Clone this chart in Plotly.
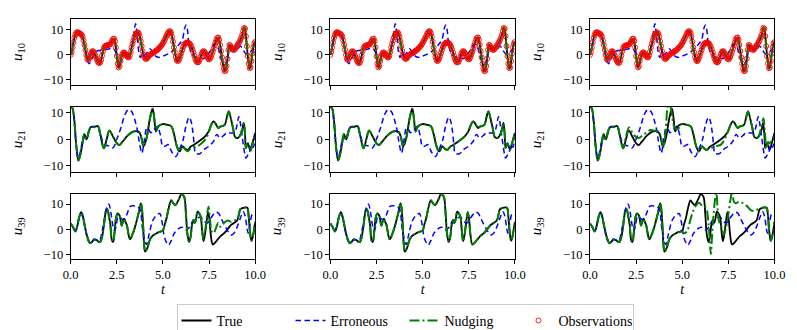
import plotly.graph_objects as go
from plotly.subplots import make_subplots

# u10 is observed every 0.05 time units; the truth runs through the observations
t_obs = [round(0.05 * i, 2) for i in range(201)]
u10_true = [
    0, 1.2, 3, 5, 6.8, 8, 8.8, 9.1, 9, 8.8, 8.6, 8.4, 8, 7.3, 5.8, 4, 2, 0, -1.6, -2,
    -1.5, -0.5, 0.5, 1.3, 1.5, 1.2, 0.5, -0.5, -1.5, -2.4, -3, -3.3, -3, -2, -0.3, 1.5, 2.8, 3.4, 3.7, 3.8,
    3.9, 4, 4.1, 4.3, 5, 5.8, 6.4, 6.5, 5.5, 3, -0.5, -3.5, -5, -4.5, -2.5, -0.8, 0.3, 0.9, 1, 0.6,
    0, -0.5, -0.9, -1, -0.3, 1.2, 3, 4.5, 5.8, 7, 7.9, 8.5, 8.9, 9, 8.5, 7.3, 5.5, 3.5, 1.5, 0,
    -1, -1.5, -1.6, -1.3, -0.8, -0.3, 0, 0.3, 0.6, 0.8, 1, 1.2, 1.5, 1.8, 2, 2.4, 2.8, 3.2, 3.6, 4.1,
    4.7, 5.4, 6.1, 6.9, 7.7, 8.5, 9.1, 9.5, 9.4, 8.7, 7.3, 5.3, 3, 1, -0.8, -2, -2.5, -2.2, -1.4, -0.4,
    0.8, 2, 3.2, 4, 4.5, 4.8, 5, 5, 4.8, 4.5, 4, 3.2, 2.2, 1, -0.3, -1.5, -2.4, -2.9, -3, -2.7,
    -1.8, -0.7, 0.4, 1.2, 1.5, 1.3, 0.7, 0, -0.8, -1.5, -1.8, -1.5, -0.8, 0.2, 1.3, 2.5, 3.8, 5, 6.1, 6.8,
    7, 6, 4, 1.5, -1, -3.5, -5.5, -6.5, -6.3, -4.5, -1.5, 2, 4, 3.8, 3, 2.4, 2.1, 2, 2.3, 2.9,
    3.5, 4, 4.6, 5.2, 6, 7, 8, 9.5, 10.8, 10.5, 7.5, 3.5, -0.5, -3.5, -5.3, -5, -2.5, 0.5, 3, 4.6,
    5.2,
]

# the other curves: (t, value) read at turning points
u10_err = [(0, 0), (0.15, 4.8), (0.3, 8.5), (0.45, 8.6), (0.6, 7.8), (0.75, 3.5), (0.9, -2), (1.0, -3.5),
           (1.1, -2.5), (1.25, 0), (1.4, 1.5), (1.7, 2), (2.0, 2.3), (2.3, 2.5), (2.45, 1), (2.55, -2),
           (2.65, -4), (2.75, -2), (2.9, 0.8), (3.05, 0.5), (3.2, 0.2), (3.3, 2), (3.4, 7), (3.52, 12.5),
           (3.6, 8), (3.7, 1), (3.78, -1), (3.9, 0.8), (4.0, 0), (4.15, 1), (4.3, 2.5), (4.45, 1),
           (4.6, -0.5), (4.8, -1), (5.0, -0.5), (5.3, 0.5), (5.6, 2), (5.85, 4), (6.05, 6), (6.17, 10.5),
           (6.25, 12), (6.33, 10), (6.42, 4), (6.55, 0.5), (6.75, -0.8), (7.0, -1), (7.2, -1.5), (7.4, 0),
           (7.6, 2), (7.8, 4.5), (7.95, 3.5), (8.1, 0), (8.25, -3.5), (8.35, -4), (8.5, -1.5), (8.65, 2.5),
           (8.8, 2.5), (9.0, 2), (9.2, 3.5), (9.35, 2), (9.5, 0.5), (9.7, 1), (9.85, 2), (10, 0.5)]

u21_true = [(0, 12), (0.08, 12), (0.2, 7), (0.3, -2), (0.42, -8), (0.52, -6), (0.65, -1), (0.74, 2),
            (0.86, 0), (0.98, 3), (1.1, 4.7), (1.3, 4.8), (1.48, 5), (1.6, 2), (1.8, -3.4), (1.95, 0),
            (2.1, 3.3), (2.3, 1), (2.5, -1.5), (2.63, -2.2), (2.8, -1), (3.1, 1.5), (3.42, 3), (3.7, 2.8),
            (3.82, 1), (3.95, -2.7), (4.1, 0), (4.3, 8), (4.44, 11.6), (4.53, 8), (4.62, 3), (4.72, 4.5),
            (4.83, 5.3), (5.0, 5.8), (5.19, 5.6), (5.45, 5), (5.6, 2), (5.75, -2.5), (5.9, -4.6),
            (6.07, -2.7), (6.2, -3.5), (6.34, -4), (6.5, -2.8), (6.7, -2), (7.1, 0), (7.3, 1.2), (7.48, 3),
            (7.62, 5.5), (7.74, 6.8), (7.85, 6), (8.0, 4.3), (8.1, 4.8), (8.19, 5), (8.35, 5.5), (8.47, 8.5),
            (8.57, 10.6), (8.68, 8), (8.8, 4.3), (8.92, 0.8), (9.05, 0.5), (9.16, 1.2), (9.3, 3.5),
            (9.38, 6.2), (9.45, 2), (9.5, -3.3), (9.6, -1.5), (9.68, -3), (9.74, -3.9), (9.85, -1.5), (10, 2.4)]

u21_err = [(0, 12), (0.08, 12), (0.2, 6), (0.3, -2), (0.42, -7), (0.55, -4), (0.7, 1), (0.85, 0), (1.0, 3),
           (1.1, 4.7), (1.3, 4.5), (1.48, 4.8), (1.6, 2), (1.84, -2), (2.05, -2.5), (2.28, -3.3), (2.5, 0),
           (2.75, 5), (2.95, 9.5), (3.12, 11.2), (3.3, 10.6), (3.45, 8), (3.6, 4), (3.72, -1), (3.86, -5.2),
           (4.0, 0), (4.13, 4.3), (4.25, 3.5), (4.34, 2.5), (4.5, 3.5), (4.7, 5), (4.85, 2), (5.0, -2.7),
           (5.15, -2.5), (5.27, -2), (5.5, -5), (5.71, -6.5), (5.85, -4.5), (6.07, -0.8), (6.25, 5),
           (6.42, 8.4), (6.52, 7), (6.6, 4), (6.7, -2), (6.77, -5.2), (7.0, -5.5), (7.2, -4), (7.48, -2.7),
           (7.74, -0.8), (7.92, 1.8), (8.1, 0.5), (8.3, 1.5), (8.45, 2.4), (8.71, 2.4), (8.9, 2.5),
           (8.98, 4.3), (9.12, 8.6), (9.2, 6), (9.3, 1), (9.4, -4), (9.5, -7.1), (9.6, -6), (9.68, -5.2),
           (9.8, -2), (9.9, -3), (10, 1.8)]

u39_true = [(0, 2.3), (0.12, 1), (0.25, -0.8), (0.35, 1), (0.45, 4.5), (0.57, 6.8), (0.65, 5.5), (0.75, 2),
            (0.85, -1.5), (0.95, -4), (1.06, -5.5), (1.15, -5), (1.27, -4), (1.4, -4.2), (1.5, -4.8),
            (1.6, -5), (1.7, -3), (1.8, 1.5), (1.93, 7.8), (1.98, 8), (2.08, 5), (2.15, 2), (2.24, -4.5),
            (2.3, -5), (2.38, -1), (2.47, 5), (2.55, 6.3), (2.65, 5.5), (2.72, 3), (2.77, 1.5), (2.85, 3.5),
            (2.9, 4.2), (2.97, 3), (3.05, 1.5), (3.15, -2.5), (3.22, -4), (3.35, -2), (3.47, 0.5), (3.6, 4),
            (3.7, 7), (3.8, 10.3), (3.85, 9), (3.93, 1), (3.98, -6), (4.04, -8.8), (4.15, -7.5), (4.3, -4),
            (4.45, -2.5), (4.6, -1.8), (4.75, -1.2), (4.9, -0.8), (5.0, -0.5), (5.1, 2), (5.2, 4.5),
            (5.3, 8), (5.45, 11.5), (5.55, 10.5), (5.68, 9.6), (5.8, 11), (5.9, 12.5), (6.0, 14),
            (6.1, 13.5), (6.17, 12.5), (6.25, 6), (6.33, -2), (6.42, -5), (6.5, -3), (6.58, 2), (6.65, 3.6),
            (6.72, 2.5), (6.78, 3.5), (6.88, 7), (6.95, 6.5), (7.05, 5), (7.12, 0), (7.2, -4.7), (7.28, -2),
            (7.35, 2), (7.45, 6.8), (7.52, 4), (7.6, -2.5), (7.7, -6), (7.8, -5.5), (7.97, -4),
            (8.15, -2.5), (8.32, -1.5), (8.5, 0), (8.68, 1.7), (8.85, 2.5), (9.03, 3.6), (9.12, 6),
            (9.2, 8), (9.35, 8.5), (9.5, 8.7), (9.58, 8.5), (9.65, 5), (9.72, -1), (9.8, -4.5),
            (9.87, -3), (10, 3)]

u39_err = [(0, 2.3), (0.12, 1), (0.25, -0.8), (0.35, 1), (0.45, 4), (0.57, 6.3), (0.65, 5), (0.75, 1.5),
           (0.85, -2), (0.95, -4.5), (1.06, -5.5), (1.15, -5), (1.27, -4), (1.4, -4.2), (1.55, -4.5),
           (1.7, -1), (1.85, 5), (1.97, 9), (2.07, 10), (2.17, 7), (2.3, 1), (2.38, -0.5), (2.47, 1.5),
           (2.57, 4.9), (2.7, 4.5), (2.89, 3.8), (3.05, 6), (3.25, 9.2), (3.45, 9.3), (3.6, 9), (3.75, 8),
           (3.9, 0), (4.1, -6), (4.25, -2), (4.45, 3.5), (4.65, 5.5), (4.83, 6.3), (4.95, 3), (5.1, -3.5),
           (5.3, -6.2), (5.45, -4.5), (5.62, -1.5), (5.89, 0.5), (6.05, 0.8), (6.24, -0.3), (6.4, 0.5),
           (6.6, 3), (6.86, 4.5), (7.05, 4.8), (7.25, 3), (7.4, 2.5), (7.6, 4.5), (7.85, 6.8), (8.0, 6.5),
           (8.15, 4.5), (8.35, 1.5), (8.55, -1), (8.7, -2.2), (8.85, -1.5), (9.0, 0.5), (9.2, 4.5),
           (9.35, 7), (9.45, 5.5), (9.55, 1), (9.62, -1.5), (9.72, 2), (9.85, 6), (10, 5.5)]

# nudging runs: left column (moderate gain), middle (tracks truth), right (weak gain)
u21_nudge_left = [(0, 12), (0.08, 12), (0.2, 7), (0.3, -2), (0.42, -8), (0.52, -6), (0.65, -1), (0.74, 2),
                  (0.86, 0), (0.98, 3), (1.1, 4.7), (1.3, 4.8), (1.48, 5), (1.6, 2), (1.8, -3.4), (1.95, 0),
                  (2.1, 3.3), (2.3, 1), (2.5, -1.5), (2.63, -2.2), (2.8, -1), (3.1, 1.5), (3.42, 3),
                  (3.7, 2.8), (3.82, 1), (3.95, -2.7), (4.1, 0), (4.3, 8), (4.44, 11.6), (4.53, 8),
                  (4.62, 3), (4.72, 4.5), (4.83, 5.3), (5.0, 5.8), (5.19, 5.6), (5.45, 5), (5.6, 2),
                  (5.75, -2.5), (5.9, -4.6), (6.07, -2.7), (6.2, -3.8), (6.34, -4.5), (6.5, -3.5),
                  (6.7, -3), (6.9, -2.5), (7.1, -1.5), (7.3, 0), (7.48, 2.5), (7.62, 5.5), (7.74, 6.8),
                  (7.85, 6), (8.0, 4.3), (8.1, 4.8), (8.19, 5), (8.35, 5.5), (8.47, 8.5), (8.57, 10.6),
                  (8.68, 8), (8.8, 4.3), (8.92, 0.8), (9.05, 0.5), (9.16, 1.2), (9.3, 3.5), (9.38, 6.2),
                  (9.45, 2), (9.5, -3.3), (9.6, -1.5), (9.68, -3.5), (9.74, -4.5), (9.85, -2), (10, 2.4)]

u21_nudge_right = [(0, 12), (0.08, 12), (0.2, 7), (0.3, -2), (0.42, -8), (0.52, -6), (0.65, -1), (0.74, 2),
                   (0.86, 0), (0.98, 3), (1.1, 4.7), (1.3, 4.8), (1.48, 5), (1.6, 2), (1.8, -3.4), (1.95, 1),
                   (2.12, 4.5), (2.3, 2.5), (2.5, 0.8), (2.65, 0.5), (2.85, 1.5), (3.05, 2.5), (3.27, 3.5),
                   (3.5, 3.3), (3.72, 3), (3.85, 1), (3.98, -3), (4.1, 3), (4.25, 13), (4.35, 12.5),
                   (4.45, 9), (4.55, 5), (4.65, 4), (4.78, 4), (4.9, 5.5), (5.0, 5.8), (5.19, 5.6), (5.45, 5),
                   (5.6, 2), (5.75, -2.5), (5.9, -4.6), (6.07, -2.7), (6.2, -3.5), (6.34, -4), (6.5, -3.5),
                   (6.7, -3), (6.9, -2.5), (7.1, -2), (7.3, 0), (7.48, 3), (7.62, 5.5), (7.74, 6.8),
                   (7.85, 6), (8.0, 4.3), (8.1, 4.8), (8.19, 5), (8.35, 5.5), (8.47, 8.5), (8.57, 10.6),
                   (8.68, 8), (8.8, 4.3), (8.92, 0.8), (9.05, 0.5), (9.16, 1.5), (9.3, 5), (9.4, 8),
                   (9.48, 3), (9.56, -3.5), (9.65, -1), (9.74, -1.5), (9.85, -0.5), (10, 2.4)]

u39_nudge_left = [(0, 2.3), (0.12, 1), (0.25, -0.8), (0.35, 1), (0.45, 4.5), (0.57, 6.8), (0.65, 5.5),
                  (0.75, 2), (0.85, -1.5), (0.95, -4), (1.06, -5.5), (1.15, -5), (1.27, -4), (1.4, -4.2),
                  (1.5, -4.8), (1.6, -5), (1.7, -3), (1.8, 1.5), (1.93, 7.8), (1.98, 8), (2.08, 5),
                  (2.15, 2), (2.24, -4.5), (2.3, -5), (2.38, -1), (2.47, 5), (2.55, 6.3), (2.65, 5.5),
                  (2.72, 3), (2.77, 1.5), (2.85, 3.5), (2.9, 4.2), (2.97, 3), (3.05, 1.5), (3.15, -2.5),
                  (3.22, -4), (3.35, -2), (3.47, 0.5), (3.6, 4), (3.7, 7), (3.8, 10.3), (3.85, 9),
                  (3.93, 1), (3.98, -6), (4.04, -8.8), (4.15, -7.5), (4.3, -4), (4.45, -2.5), (4.6, -1.8),
                  (4.75, -1.2), (4.9, -0.8), (5.0, -0.5), (5.1, 2), (5.2, 4.5), (5.3, 8), (5.45, 11.5),
                  (5.55, 10.5), (5.68, 9.6), (5.8, 11), (5.9, 12.5), (6.0, 14), (6.1, 13.5), (6.17, 12.5),
                  (6.25, 6), (6.33, -2), (6.42, -5), (6.5, -3), (6.58, 2), (6.65, 3.6), (6.72, 2.5),
                  (6.78, 3.5), (6.88, 7), (6.95, 6.5), (7.05, 5), (7.12, 0), (7.2, -4), (7.3, 0),
                  (7.4, 6), (7.47, 9), (7.55, 4), (7.65, -1), (7.75, -1.5), (7.85, 0), (8.0, 2.5),
                  (8.12, 1), (8.3, 2.5), (8.5, 3.5), (8.7, 3), (8.9, 3.5), (9.03, 4), (9.12, 6), (9.2, 8),
                  (9.35, 8.5), (9.5, 8.7), (9.58, 8.5), (9.65, 5), (9.72, -1), (9.8, -4.5), (9.87, -3),
                  (10, 3)]

u39_nudge_right = [(0, 2.3), (0.12, 1), (0.25, -0.8), (0.35, 1), (0.45, 4.5), (0.57, 6.8), (0.65, 5.5),
                   (0.75, 2), (0.85, -1.5), (0.95, -4), (1.06, -5.5), (1.15, -5), (1.27, -4), (1.4, -4.2),
                   (1.5, -4.8), (1.6, -5), (1.7, -3), (1.8, 1.5), (1.93, 7.8), (1.98, 8), (2.08, 5),
                   (2.15, 2), (2.24, -4.5), (2.3, -5), (2.38, -1), (2.47, 5), (2.55, 6.3), (2.65, 5.5),
                   (2.72, 3), (2.77, 1.5), (2.85, 3.5), (2.9, 4.2), (2.97, 3), (3.05, 1.5), (3.15, -2.5),
                   (3.22, -4), (3.35, -2), (3.47, 0.5), (3.6, 4), (3.7, 7), (3.8, 10.3), (3.85, 9),
                   (3.93, 1), (3.98, -6), (4.04, -8.8), (4.15, -7.5), (4.3, -4), (4.45, -2.5), (4.6, -1.8),
                   (4.75, -1.2), (4.9, -1), (5.0, -1), (5.15, -1.5), (5.3, 0), (5.45, 4), (5.58, 7),
                   (5.75, 9.5), (5.93, 10.5), (6.1, 9), (6.28, 8.7), (6.4, 4), (6.48, -3), (6.55, -9.8),
                   (6.62, -2), (6.7, 6), (6.78, 12), (6.85, 14.5), (6.92, 8), (7.0, 3), (7.1, 1.5),
                   (7.25, -2), (7.35, 0), (7.5, 6), (7.62, 12), (7.7, 15), (7.8, 11), (7.9, 10.3),
                   (8.05, 10.8), (8.23, 10.6), (8.5, 9.3), (8.76, 7.4), (8.95, 7.5), (9.12, 8), (9.38, 8.7),
                   (9.5, 8.7), (9.58, 8.5), (9.65, 5), (9.72, -1), (9.8, -4.5), (9.87, -3), (10, 3)]


def split(pairs):
    return [p[0] for p in pairs], [p[1] for p in pairs]


rows = [
    ("10", (t_obs, u10_true), split(u10_err), [(t_obs, u10_true)] * 3),
    ("21", split(u21_true), split(u21_err),
     [split(u21_nudge_left), split(u21_true), split(u21_nudge_right)]),
    ("39", split(u39_true), split(u39_err),
     [split(u39_nudge_left), split(u39_true), split(u39_nudge_right)]),
]
yranges = [[-11.9, 14.2], [-12.3, 12.4], [-11.7, 14.1]]

W, H = 797, 330
cols_px = [(56, 245), (322, 511), (588, 777)]
rows_px = [(12, 80), (103, 171), (194, 262)]

serif = "Liberation Serif"
fig = make_subplots(rows=3, cols=3)

for r, (idx, tru, err, nudges) in enumerate(rows):
    for c in range(3):
        first = (r == 0 and c == 0)
        fig.add_trace(go.Scatter(x=tru[0], y=tru[1], mode="lines", name="True", legendgroup="true",
                                 showlegend=first, line=dict(color="black", width=1.8, shape="spline")),
                      row=r + 1, col=c + 1)
        fig.add_trace(go.Scatter(x=err[0], y=err[1], mode="lines", name="Erroneous", legendgroup="err",
                                 showlegend=first,
                                 line=dict(color="#0000ff", width=1.5, dash="5.5px,3.5px", shape="spline")),
                      row=r + 1, col=c + 1)
        nx, ny = nudges[c]
        fig.add_trace(go.Scatter(x=nx, y=ny, mode="lines", name="Nudging", legendgroup="nud",
                                 showlegend=first,
                                 line=dict(color="#008000", width=2, dash="10px,3px,2px,3px", shape="spline")),
                      row=r + 1, col=c + 1)
        if r == 0:
            fig.add_trace(go.Scatter(x=t_obs, y=u10_true, mode="markers", name="Observations",
                                     legendgroup="obs", showlegend=first,
                                     marker=dict(symbol="circle-open", size=5, color="#ff0000",
                                                 line=dict(width=0.9, color="#ff0000"))),
                          row=r + 1, col=c + 1)

        n = r * 3 + c + 1
        sfx = "" if n == 1 else str(n)
        x0, x1 = cols_px[c]
        y0, y1 = rows_px[r]
        fig.layout["xaxis" + sfx].update(
            domain=[x0 / W, x1 / W], range=[0, 10], tickvals=[0, 2.5, 5, 7.5, 10],
            ticktext=["0.0", "2.5", "5.0", "7.5", "10.0"], showticklabels=(r == 2),
            showline=True, mirror=True, linecolor="black", linewidth=1, ticks="outside",
            ticklen=4, tickwidth=1, tickcolor="black", showgrid=False, zeroline=False,
            tickfont=dict(family=serif, size=12.5, color="black"))
        if r == 2:
            fig.layout["xaxis" + sfx].title = dict(text="<i>t</i>", standoff=2,
                                                   font=dict(family=serif, size=14, color="black"))
        fig.layout["yaxis" + sfx].update(
            domain=[1 - y1 / H, 1 - y0 / H], range=yranges[r], tickvals=[-10, 0, 10],
            showline=True, mirror=True, linecolor="black", linewidth=1, ticks="outside",
            ticklen=4, tickwidth=1, tickcolor="black", showgrid=False, zeroline=False,
            tickfont=dict(family=serif, size=12.5, color="black"),
            title=dict(text="<i>u</i><sub>" + idx + "</sub>", standoff=17,
                       font=dict(family=serif, size=15, color="black")))

fig.update_layout(
    width=W, height=H, margin=dict(l=0, r=0, t=0, b=0),
    paper_bgcolor="white", plot_bgcolor="white",
    legend=dict(orientation="h", x=0.5, xanchor="center", y=1 - 309 / H, yanchor="top",
                bordercolor="#cccccc", borderwidth=1, bgcolor="white", entrywidth=69,
                font=dict(family=serif, size=14, color="black")),
)

fig.write_html("out.html")
